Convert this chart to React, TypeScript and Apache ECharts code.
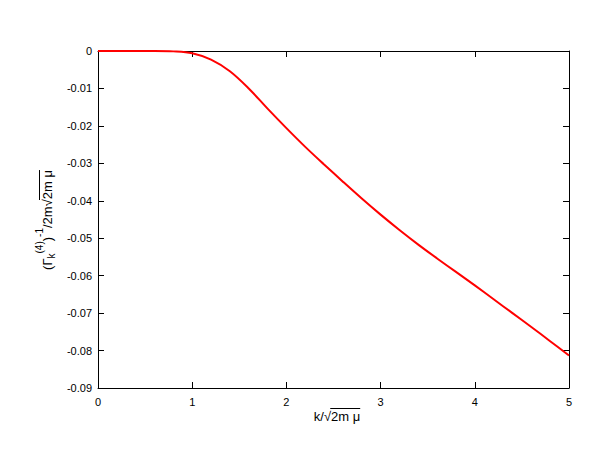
import { useEffect, useRef } from "react";
import * as echarts from "echarts";

// k / sqrt(2 m mu)
const X_VALUES = [0, 0.2, 0.4, 0.6, 0.8, 1.0, 1.2, 1.4, 1.6, 1.8, 2.0, 2.2, 2.4, 2.6, 2.8, 3.0, 3.2, 3.4, 3.6, 3.8, 4.0, 4.2, 4.4, 4.6, 4.8, 5.0];
// (Gamma_k^(4))^-1 / 2m sqrt(2 m mu)
const Y_VALUES = [0, 0, 0, 0, -0.0001, -0.0006, -0.0023, -0.0054, -0.0100, -0.0154, -0.0206, -0.0256, -0.0303, -0.0349, -0.0394, -0.0437, -0.0478, -0.0517, -0.0554, -0.0590, -0.0626, -0.0663, -0.0700, -0.0737, -0.0775, -0.0813];

const X_MIN = 0;
const X_MAX = 5;
const X_STEP = 1;
const Y_MIN = -0.09;
const Y_MAX = 0;
const Y_STEP = 0.01;

const FONT = "'Liberation Sans', Arial, Helvetica, sans-serif";
const MAIN = 13;
const SMALL = 10;

type Piece = { t: string; size: number; top: number; over?: boolean };

const Y_LABEL: Piece[] = [
  { t: "(Γ", size: MAIN, top: -6.5 },
  { t: "k", size: SMALL, top: -1 },
  { t: "(4)", size: SMALL, top: -13.5 },
  { t: ")", size: MAIN, top: -6.5 },
  { t: "-1", size: SMALL, top: -13.5 },
  { t: "/2m√", size: MAIN, top: -6.5 },
  { t: "2m μ", size: MAIN, top: -6.5, over: true },
];

const X_LABEL: Piece[] = [
  { t: "k/√", size: MAIN, top: -6.5 },
  { t: "2m μ", size: MAIN, top: -6.5, over: true },
];

function measure(text: string, size: number): number {
  const c = document.createElement("canvas").getContext("2d");
  if (!c) return text.length * size * 0.55;
  c.font = `${size}px ${FONT}`;
  return c.measureText(text).width;
}

function buildLabel(pieces: Piece[], overY: number) {
  const widths = pieces.map((p) => measure(p.t, p.size));
  const total = widths.reduce((a, b) => a + b, 0);
  let cum = -total / 2;
  const children: any[] = [];
  pieces.forEach((p, i) => {
    children.push({
      type: "text",
      x: cum,
      y: p.top,
      style: {
        text: p.t,
        font: `${p.size}px ${FONT}`,
        fill: "#000",
        textAlign: "left",
        textVerticalAlign: "top",
      },
    });
    if (p.over) {
      children.push({
        type: "line",
        shape: { x1: cum - 0.8, y1: overY, x2: cum + widths[i], y2: overY },
        style: { stroke: "#000", lineWidth: 1 },
      });
    }
    cum += widths[i];
  });
  return children;
}

export default function App() {
  const ref = useRef<HTMLDivElement>(null);

  useEffect(() => {
    if (!ref.current) return;
    const chart = echarts.init(ref.current, undefined, { renderer: "svg" });

    const axisLine = { show: true, onZero: false, lineStyle: { color: "#000", width: 1 } };
    const axisTick = { show: true, inside: true, length: 6, lineStyle: { color: "#000", width: 1 } };
    const tickLabel = { color: "#000", fontSize: 11, fontFamily: FONT };

    const yFmt = (v: number) => (Math.abs(v) < 1e-9 ? "0" : v.toFixed(2));

    chart.setOption({
      animation: false,
      backgroundColor: "#fff",
      grid: { left: 98, right: 36, top: 51, bottom: 80 },
      xAxis: [
        {
          type: "value",
          min: X_MIN,
          max: X_MAX,
          interval: X_STEP,
          position: "bottom",
          axisLine,
          axisTick,
          axisLabel: { ...tickLabel, margin: 8 },
          splitLine: { show: false },
        },
        {
          type: "value",
          min: X_MIN,
          max: X_MAX,
          interval: X_STEP,
          position: "top",
          axisLine,
          axisTick,
          axisLabel: { show: false },
          splitLine: { show: false },
        },
      ],
      yAxis: [
        {
          type: "value",
          min: Y_MIN,
          max: Y_MAX,
          interval: Y_STEP,
          position: "left",
          axisLine,
          axisTick,
          axisLabel: { ...tickLabel, margin: 6, formatter: yFmt },
          splitLine: { show: false },
        },
        {
          type: "value",
          min: Y_MIN,
          max: Y_MAX,
          interval: Y_STEP,
          position: "right",
          axisLine,
          axisTick,
          axisLabel: { show: false },
          splitLine: { show: false },
        },
      ],
      series: [
        {
          type: "line",
          xAxisIndex: 0,
          yAxisIndex: 0,
          data: X_VALUES.map((x, i) => [x, Y_VALUES[i]]),
          showSymbol: false,
          smooth: 0.35,
          lineStyle: { color: "#ff0000", width: 2 },
          itemStyle: { color: "#ff0000" },
        },
      ],
      graphic: [
        {
          type: "group",
          x: 47.5,
          y: 220,
          rotation: Math.PI / 2,
          children: buildLabel(Y_LABEL, -8),
        },
        {
          type: "group",
          x: 337,
          y: 416.5,
          children: buildLabel(X_LABEL, -8),
        },
      ],
    });

    return () => chart.dispose();
  }, []);

  return (
    <div
      ref={ref}
      style={{ position: "fixed", left: 0, top: 0, width: 605, height: 468, background: "#fff" }}
    />
  );
}
